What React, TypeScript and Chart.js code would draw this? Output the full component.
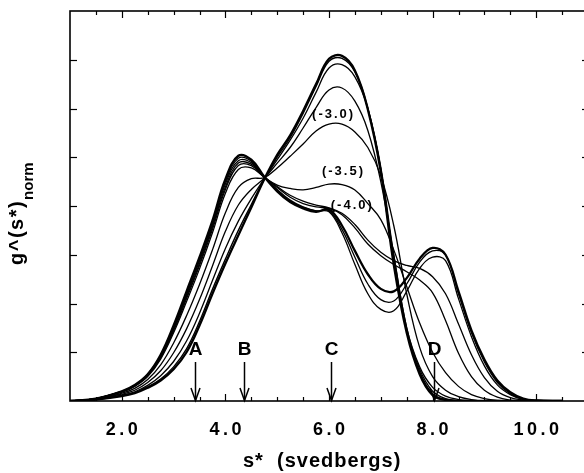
import React, { useEffect, useRef } from "react";
import { Chart, registerables } from "chart.js";

Chart.register(...registerables);

// s* grid (svedbergs) on which the curves were read
const S_GRID = [1.0, 1.5, 2.0, 2.25, 2.5, 2.75, 3.0, 3.25, 3.5, 3.75, 4.0, 4.25, 4.5, 4.75, 5.0, 5.25, 5.5, 5.75, 6.0, 6.25, 6.5, 6.75, 7.0, 7.25, 7.5, 7.75, 8.0, 8.25, 8.5, 8.75, 9.0, 9.25, 9.5, 9.75, 10.0, 10.5];

// g^(s*) normalized curves
const CURVE_1 = [0, 0.03, 0.1, 0.16, 0.27, 0.42, 0.65, 1.0, 1.55, 2.2, 2.82, 3.4, 3.97, 4.55, 5.05, 5.45, 5.95, 6.5, 7.02, 7.08, 6.78, 5.98, 4.7, 2.8, 1.4, 0.55, 0.12, 0.02, 0, 0, 0, 0, 0, 0, 0, 0];
const CURVE_2 = [0, 0.03, 0.11, 0.17, 0.29, 0.45, 0.7, 1.07, 1.63, 2.29, 2.91, 3.5, 4.03, 4.55, 5.0, 5.4, 5.9, 6.45, 6.97, 7.03, 6.75, 6.0, 4.75, 2.9, 1.45, 0.6, 0.15, 0.03, 0, 0, 0, 0, 0, 0, 0, 0];
const CURVE_3 = [0, 0.03, 0.12, 0.19, 0.32, 0.52, 0.81, 1.23, 1.8, 2.47, 3.13, 3.69, 4.15, 4.56, 4.95, 5.35, 5.8, 6.33, 6.83, 6.9, 6.65, 6.0, 4.8, 3.0, 1.5, 0.65, 0.2, 0.05, 0.01, 0, 0, 0, 0, 0, 0, 0];
const CURVE_4 = [0, 0.04, 0.14, 0.22, 0.38, 0.62, 0.99, 1.48, 2.08, 2.77, 3.48, 4.02, 4.34, 4.57, 4.88, 5.2, 5.6, 6.02, 6.38, 6.42, 6.15, 5.55, 4.5, 3.0, 1.5, 0.7, 0.28, 0.1, 0.03, 0.01, 0, 0, 0, 0, 0, 0];
const CURVE_M30 = [0, 0.04, 0.16, 0.26, 0.44, 0.74, 1.19, 1.75, 2.39, 3.1, 3.86, 4.38, 4.56, 4.58, 4.78, 5.02, 5.27, 5.54, 5.68, 5.68, 5.52, 5.2, 4.62, 3.6, 2.2, 1.1, 0.5, 0.22, 0.09, 0.03, 0, 0, 0, 0, 0, 0];
const CURVE_M35 = [0, 0.05, 0.18, 0.3, 0.5, 0.86, 1.4, 2.04, 2.71, 3.45, 4.26, 4.75, 4.78, 4.59, 4.43, 4.36, 4.33, 4.38, 4.45, 4.44, 4.33, 4.05, 3.72, 3.1, 2.35, 1.6, 1.0, 0.58, 0.3, 0.13, 0.05, 0.01, 0, 0, 0, 0];
const CURVE_M40 = [0, 0.05, 0.19, 0.31, 0.52, 0.9, 1.47, 2.14, 2.82, 3.57, 4.39, 4.88, 4.86, 4.6, 4.38, 4.18, 4.05, 3.98, 3.95, 3.82, 3.55, 3.22, 2.98, 2.8, 2.65, 2.48, 2.22, 1.65, 0.98, 0.5, 0.22, 0.08, 0.02, 0, 0, 0];
const CURVE_8 = [0, 0.05, 0.19, 0.31, 0.52, 0.89, 1.44, 2.1, 2.78, 3.52, 4.34, 4.83, 4.83, 4.59, 4.4, 4.22, 4.1, 4.02, 3.96, 3.85, 3.62, 3.3, 3.05, 2.88, 2.78, 2.72, 2.55, 2.2, 1.58, 0.95, 0.48, 0.2, 0.07, 0.02, 0, 0];
const CURVE_9 = [0, 0.05, 0.19, 0.32, 0.53, 0.92, 1.5, 2.18, 2.87, 3.61, 4.45, 4.93, 4.89, 4.6, 4.34, 4.12, 3.98, 3.9, 3.88, 3.45, 2.8, 2.2, 1.88, 1.85, 2.25, 2.72, 2.95, 2.88, 2.1, 1.32, 0.72, 0.33, 0.13, 0.03, 0.01, 0];
const CURVE_10 = [0, 0.05, 0.2, 0.32, 0.54, 0.93, 1.52, 2.21, 2.91, 3.66, 4.5, 4.98, 4.92, 4.6, 4.32, 4.1, 3.97, 3.9, 3.9, 3.52, 2.95, 2.4, 2.08, 2.05, 2.4, 2.85, 3.08, 3.0, 2.2, 1.4, 0.8, 0.38, 0.15, 0.04, 0.01, 0];
const CURVE_11 = [0, 0.05, 0.2, 0.33, 0.55, 0.95, 1.55, 2.25, 2.95, 3.7, 4.55, 5.03, 4.95, 4.6, 4.3, 4.08, 3.95, 3.88, 3.93, 3.6, 3.08, 2.6, 2.3, 2.25, 2.52, 2.92, 3.14, 3.0, 2.25, 1.45, 0.85, 0.42, 0.18, 0.05, 0.01, 0];

const CURVES = [CURVE_1, CURVE_2, CURVE_3, CURVE_4, CURVE_M30, CURVE_M35, CURVE_M40, CURVE_8, CURVE_9, CURVE_10, CURVE_11];
const CURVE_WIDTHS = [2.3, 1.4, 1.3, 1.3, 1.3, 1.3, 1.3, 1.3, 1.3, 1.3, 2.3];

// axes
const X_MIN = 1;
const X_MAX = 11;
const X_MINOR_STEP = 0.5;
const X_TICK_VALUES = [2, 4, 6, 8, 10];
const X_TICK_LABELS = ["2.0", "4.0", "6.0", "8.0", "10.0"];
const Y_MIN = 0;
const Y_MAX = 8;
const Y_TICK_VALUES = [1, 2, 3, 4, 5, 6, 7];

// annotations
const ARROW_LABELS = ["A", "B", "C", "D"];
const ARROW_S = [3.42, 4.35, 6.03, 8.02];
const CURVE_LABELS = ["(-3.0)", "(-3.5)", "(-4.0)"];
const CURVE_LABEL_S = [6.07, 6.26, 6.43];
const CURVE_LABEL_G = [5.87, 4.7, 4.02];

const FONT = '"Liberation Sans", Arial, Helvetica, sans-serif';

const overlayPlugin = {
  id: "overlay",
  afterDraw(chart: any) {
    const ctx: any = chart.ctx;
    const { left, right, top, bottom } = chart.chartArea;
    const xs = chart.scales.x;
    const ys = chart.scales.y;
    const line = (x1: number, y1: number, x2: number, y2: number) => {
      ctx.beginPath();
      ctx.moveTo(x1, y1);
      ctx.lineTo(x2, y2);
      ctx.stroke();
    };
    ctx.save();
    ctx.strokeStyle = "#000";
    ctx.fillStyle = "#000";
    ctx.lineWidth = 1.6;
    ctx.strokeRect(left, top, right - left, bottom - top);

    // x ticks (inward, top and bottom)
    ctx.lineWidth = 1.2;
    for (let v = X_MIN + X_MINOR_STEP; v < X_MAX - 1e-6; v += X_MINOR_STEP) {
      const px = Math.round(xs.getPixelForValue(v)) + 0.5;
      const major = X_TICK_VALUES.some((t) => Math.abs(t - v) < 1e-6);
      const len = major ? 7 : 4;
      line(px, bottom, px, bottom - len);
      line(px, top, px, top + len);
    }
    // y ticks (inward, left and right)
    Y_TICK_VALUES.forEach((v) => {
      const py = Math.round(ys.getPixelForValue(v)) + 0.5;
      line(left, py, left + 7, py);
      line(right, py, right - 6, py);
    });

    // x tick labels
    ctx.font = `bold 18px ${FONT}`;
    ctx.letterSpacing = "3.5px";
    ctx.textAlign = "center";
    ctx.textBaseline = "alphabetic";
    X_TICK_VALUES.forEach((v, i) => {
      ctx.fillText(X_TICK_LABELS[i], xs.getPixelForValue(v) + 1.75, 435);
    });

    // x title
    ctx.textAlign = "left";
    ctx.font = `bold 20px ${FONT}`;
    ctx.letterSpacing = "1px";
    ctx.fillText("s*", 243, 467);
    ctx.fillText("(svedbergs)", 277, 467);

    // y title (rotated)
    ctx.save();
    ctx.translate(23, 265);
    ctx.rotate(-Math.PI / 2);
    ctx.font = `bold 20px ${FONT}`;
    ctx.letterSpacing = "1.5px";
    ctx.fillText("g^(s*)", 0, 0);
    const w = ctx.measureText("g^(s*)").width;
    ctx.font = `bold 15px ${FONT}`;
    ctx.letterSpacing = "0px";
    ctx.fillText("norm", w, 10);
    ctx.restore();

    // arrows with letters
    ctx.lineWidth = 1.5;
    ctx.font = `bold 19px ${FONT}`;
    ctx.letterSpacing = "0px";
    ctx.textAlign = "center";
    ARROW_S.forEach((s, i) => {
      const px = Math.round(xs.getPixelForValue(s)) + 0.5;
      ctx.fillText(ARROW_LABELS[i], px, 355);
      line(px, 362, px, bottom - 0.5);
      ctx.beginPath();
      ctx.moveTo(px - 4.5, bottom - 13);
      ctx.lineTo(px, bottom - 0.5);
      ctx.lineTo(px + 4.5, bottom - 13);
      ctx.stroke();
    });

    // curve labels
    ctx.font = `bold 13px ${FONT}`;
    ctx.letterSpacing = "2px";
    ctx.textBaseline = "middle";
    CURVE_LABELS.forEach((t, i) => {
      ctx.fillText(t, xs.getPixelForValue(CURVE_LABEL_S[i]) + 1, ys.getPixelForValue(CURVE_LABEL_G[i]));
    });
    ctx.restore();
  },
};

export default function App() {
  const canvasRef = useRef<HTMLCanvasElement | null>(null);

  useEffect(() => {
    if (!canvasRef.current) return;
    const chart = new Chart(canvasRef.current, {
      type: "line",
      data: {
        datasets: CURVES.map((c, k) => ({
          data: S_GRID.map((s, i) => ({ x: s, y: c[i] })),
          borderColor: "#000",
          borderWidth: CURVE_WIDTHS[k],
          pointRadius: 0,
          tension: 0.4,
          fill: false,
        })),
      },
      options: {
        responsive: false,
        animation: false,
        layout: { padding: { left: 70, right: 12, top: 11, bottom: 72 } },
        plugins: { legend: { display: false }, tooltip: { enabled: false }, title: { display: false } },
        scales: {
          x: { type: "linear", min: X_MIN, max: X_MAX, display: false },
          y: { type: "linear", min: Y_MIN, max: Y_MAX, display: false },
        },
      },
      plugins: [overlayPlugin],
    });
    return () => chart.destroy();
  }, []);

  return (
    <div style={{ position: "absolute", left: 0, top: 0, width: 584, height: 473, overflow: "hidden", background: "#fff" }}>
      <canvas ref={canvasRef} width={600} height={473} style={{ width: 600, height: 473, display: "block" }} />
    </div>
  );
}
